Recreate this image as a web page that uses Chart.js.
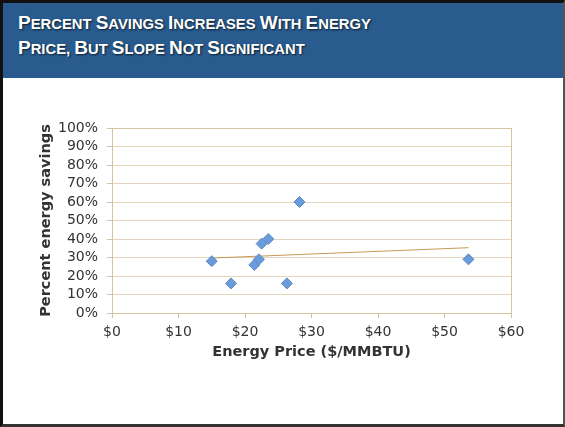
<!DOCTYPE html>
<html>
<head>
<meta charset="utf-8">
<script src="https://cdn.jsdelivr.net/npm/chart.js@4"></script>
<style>
  html, body { margin: 0; padding: 0; background: #fff; }
  #frame { position: absolute; left: 0; top: 0; width: 565px; height: 427px; box-sizing: border-box;
           border-left: 3px solid #111; border-top: 3px solid #111; border-right: 2px solid #555; border-bottom: 3px solid #333; }
  #header { position: absolute; left: 3px; top: 3px; width: 560px; height: 75px; background: #295b8e; }
  #title { position: absolute; left: 18px; top: 11px; color: #fff; font: bold 14.8px "Liberation Sans", Arial, sans-serif;
           line-height: 23px; text-shadow: 1px 1px 2px rgba(0,0,0,0.7); white-space: nowrap; }
  #title b { font-size: 19px; }
  #wrap { position: absolute; left: 0; top: 0; width: 565px; height: 427px; }
</style>
</head>
<body>
<div id="wrap"><canvas id="c" width="565" height="427"></canvas></div>
<div id="frame"></div>
<div id="header"></div>
<div id="title"><b>P</b>ERCENT <b>S</b>AVINGS <b>I</b>NCREASES <b>W</b>ITH <b>E</b>NERGY<br><b>P</b>RICE, <b>B</b>UT <b>S</b>LOPE <b>N</b>OT <b>S</b>IGNIFICANT</div>
<script>
const energyPrice = [15.0, 17.9, 21.4, 22.1, 22.5, 23.5, 28.2, 26.3, 53.6];
const percentSavings = [28, 16, 26, 29, 37.5, 40, 60, 16, 29];
const trendX = [15.0, 53.6];
const trendY = [29.7, 35.3];
const xTicks = [0, 10, 20, 30, 40, 50, 60];
const yTicks = [0, 10, 20, 30, 40, 50, 60, 70, 80, 90, 100];

const tickFont = { family: "DejaVu Sans, Verdana, sans-serif", size: 14 };
const titleFont = { family: "DejaVu Sans, Verdana, sans-serif", size: 14.5, weight: "bold" };

const areaBorder = {
  id: 'areaBorder',
  afterDatasetsDraw(chart) {
    const a = chart.chartArea, ctx = chart.ctx;
    ctx.save();
    ctx.strokeStyle = '#d6c2a4';
    ctx.lineWidth = 1;
    ctx.strokeRect(Math.round(a.left) + 0.5, Math.round(a.top) + 0.5, Math.round(a.right - a.left), Math.round(a.bottom - a.top));
    ctx.restore();
  }
};

new Chart(document.getElementById('c'), {
  type: 'scatter',
  data: {
    datasets: [
      {
        label: 'Savings',
        data: energyPrice.map((x, i) => ({ x: x, y: percentSavings[i] })),
        pointStyle: 'rectRot',
        pointRadius: 5.5,
        backgroundColor: '#6a9bdb',
        borderColor: '#5a88c8',
        borderWidth: 1,
        order: 1
      },
      {
        label: 'Trend',
        data: trendX.map((x, i) => ({ x: x, y: trendY[i] })),
        showLine: true,
        pointRadius: 0,
        borderColor: '#c49a55',
        borderWidth: 1,
        order: 2
      }
    ]
  },
  options: {
    responsive: false,
    animation: false,
    layout: { padding: { left: 35, top: 128, right: 54, bottom: 63 } },
    plugins: { legend: { display: false }, tooltip: { enabled: false } },
    scales: {
      x: {
        type: 'linear', min: 0, max: 60,
        afterBuildTicks: s => { s.ticks = xTicks.map(v => ({ value: v })); },
        afterFit: s => { s.height = 51; },
        ticks: { callback: v => '$' + v, font: tickFont, color: '#333', padding: 6, maxRotation: 0, autoSkip: false },
        grid: { drawOnChartArea: false, drawTicks: true, tickLength: 5, color: '#d6c2a4' },
        border: { color: '#d6c2a4' },
        title: { display: true, text: 'Energy Price ($/MMBTU)', font: titleFont, color: '#333', padding: { top: 2, bottom: 3 } }
      },
      y: {
        type: 'linear', min: 0, max: 100,
        afterBuildTicks: s => { s.ticks = yTicks.map(v => ({ value: v })); },
        afterFit: s => { s.width = 77; },
        ticks: { callback: v => v + '%', font: tickFont, color: '#333', padding: 9, autoSkip: false },
        grid: { color: '#e6d5bd', tickLength: 5, tickColor: '#d6c2a4' },
        border: { color: '#d6c2a4' },
        title: { display: true, text: 'Percent energy savings', font: titleFont, color: '#333', padding: { top: 3, bottom: 4 } }
      }
    }
  },
  plugins: [areaBorder]
});
</script>
</body>
</html>
